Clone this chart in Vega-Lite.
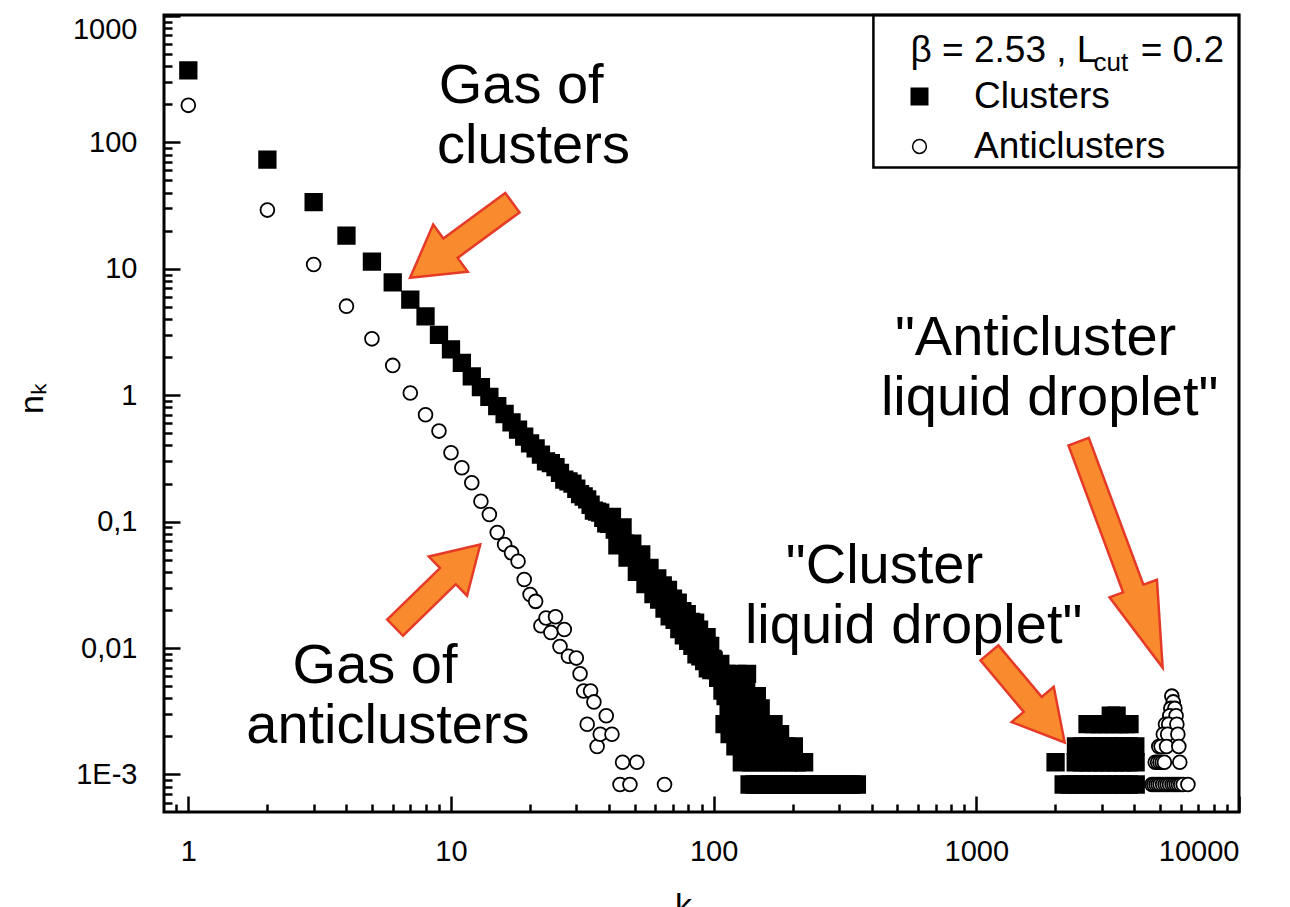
{
  "$schema": "https://vega.github.io/schema/vega-lite/v6.json",
  "width": 1075,
  "height": 797,
  "autosize": {"type": "none"},
  "padding": {"left": 164, "top": 15, "right": 51, "bottom": 95},
  "background": "white",
  "config": {
    "font": "Liberation Sans",
    "view": {"stroke": "black", "strokeWidth": 3},
    "axis": {"grid": false, "domain": false, "tickColor": "black", "tickWidth": 2.5, "ticks": true, "tickOpacity": 1, "labelColor": "black", "labelFont": "Liberation Sans", "labelFontSize": 29, "labelOverlap": false, "labelFlush": 2, "titleColor": "black", "titleFont": "Liberation Sans", "titleFontWeight": "normal", "zindex": 1}
  },
  "resolve": {"axis": {"x": "independent", "y": "independent"}},
  "datasets": {
    "points": [
      {"k":1,"n":371,"series":"Clusters"},{"k":2,"n":73,"series":"Clusters"},{"k":3,"n":33.6,"series":"Clusters"},{"k":4,"n":18.3,"series":"Clusters"},{"k":5,"n":11.4,"series":"Clusters"},{"k":6,"n":7.8,"series":"Clusters"},{"k":7,"n":5.7,"series":"Clusters"},{"k":8,"n":4.2,"series":"Clusters"},{"k":9,"n":3.0,"series":"Clusters"},{"k":10,"n":2.3,"series":"Clusters"},
      {"k":11,"n":1.8,"series":"Clusters"},{"k":12,"n":1.41,"series":"Clusters"},{"k":13,"n":1.16,"series":"Clusters"},{"k":14,"n":0.97,"series":"Clusters"},{"k":15,"n":0.82,"series":"Clusters"},{"k":16,"n":0.71,"series":"Clusters"},{"k":17,"n":0.61,"series":"Clusters"},{"k":18,"n":0.535,"series":"Clusters"},{"k":19,"n":0.47,"series":"Clusters"},{"k":20,"n":0.416,"series":"Clusters"},
      {"k":21,"n":0.38,"series":"Clusters"},{"k":22,"n":0.339,"series":"Clusters"},{"k":23,"n":0.30,"series":"Clusters"},{"k":24,"n":0.29,"series":"Clusters"},{"k":25,"n":0.27,"series":"Clusters"},{"k":26,"n":0.243,"series":"Clusters"},{"k":27,"n":0.215,"series":"Clusters"},{"k":28,"n":0.208,"series":"Clusters"},{"k":29,"n":0.2,"series":"Clusters"},{"k":30,"n":0.182,"series":"Clusters"},
      {"k":31,"n":0.165,"series":"Clusters"},{"k":32,"n":0.158,"series":"Clusters"},{"k":33,"n":0.15,"series":"Clusters"},{"k":34,"n":0.136,"series":"Clusters"},{"k":35,"n":0.122,"series":"Clusters"},{"k":36,"n":0.12,"series":"Clusters"},{"k":37,"n":0.118,"series":"Clusters"},{"k":38,"n":0.107,"series":"Clusters"},{"k":39,"n":0.097,"series":"Clusters"},{"k":40,"n":0.096,"series":"Clusters"},
      {"k":41,"n":0.109,"series":"Clusters"},{"k":42,"n":0.0863,"series":"Clusters"},{"k":43,"n":0.065,"series":"Clusters"},{"k":44,"n":0.0766,"series":"Clusters"},{"k":45,"n":0.09,"series":"Clusters"},{"k":46,"n":0.067,"series":"Clusters"},{"k":47,"n":0.052,"series":"Clusters"},{"k":48,"n":0.0593,"series":"Clusters"},{"k":49,"n":0.067,"series":"Clusters"},{"k":50,"n":0.0526,"series":"Clusters"},
      {"k":51,"n":0.040,"series":"Clusters"},{"k":52,"n":0.0468,"series":"Clusters"},{"k":53,"n":0.055,"series":"Clusters"},{"k":54,"n":0.0419,"series":"Clusters"},{"k":55,"n":0.032,"series":"Clusters"},{"k":56,"n":0.0376,"series":"Clusters"},{"k":57,"n":0.043,"series":"Clusters"},{"k":58,"n":0.034,"series":"Clusters"},{"k":59,"n":0.0267,"series":"Clusters"},{"k":60,"n":0.031,"series":"Clusters"},
      {"k":61,"n":0.0356,"series":"Clusters"},{"k":62,"n":0.0242,"series":"Clusters"},{"k":63,"n":0.0272,"series":"Clusters"},{"k":64,"n":0.0313,"series":"Clusters"},{"k":65,"n":0.0205,"series":"Clusters"},{"k":66,"n":0.024,"series":"Clusters"},{"k":67,"n":0.0289,"series":"Clusters"},{"k":68,"n":0.0178,"series":"Clusters"},{"k":69,"n":0.0213,"series":"Clusters"},{"k":70,"n":0.0246,"series":"Clusters"},
      {"k":71,"n":0.0167,"series":"Clusters"},{"k":72,"n":0.019,"series":"Clusters"},{"k":73,"n":0.0229,"series":"Clusters"},{"k":74,"n":0.0141,"series":"Clusters"},{"k":75,"n":0.0169,"series":"Clusters"},{"k":76,"n":0.0196,"series":"Clusters"},{"k":77,"n":0.0126,"series":"Clusters"},{"k":78,"n":0.0153,"series":"Clusters"},{"k":79,"n":0.0185,"series":"Clusters"},{"k":80,"n":0.0114,"series":"Clusters"},
      {"k":81,"n":0.0139,"series":"Clusters"},{"k":82,"n":0.0161,"series":"Clusters"},{"k":83,"n":0.0104,"series":"Clusters"},{"k":84,"n":0.0126,"series":"Clusters"},{"k":85,"n":0.0159,"series":"Clusters"},{"k":86,"n":0.0089,"series":"Clusters"},{"k":87,"n":0.0115,"series":"Clusters"},{"k":88,"n":0.014,"series":"Clusters"},{"k":89,"n":0.0086,"series":"Clusters"},{"k":90,"n":0.0105,"series":"Clusters"},
      {"k":91,"n":0.0122,"series":"Clusters"},{"k":92,"n":0.0079,"series":"Clusters"},{"k":93,"n":0.0097,"series":"Clusters"},{"k":94,"n":0.0122,"series":"Clusters"},{"k":95,"n":0.0069,"series":"Clusters"},{"k":96,"n":0.0089,"series":"Clusters"},{"k":97,"n":0.0104,"series":"Clusters"},{"k":98,"n":0.0067,"series":"Clusters"},{"k":99,"n":0.0082,"series":"Clusters"},{"k":100,"n":0.008,"series":"Clusters"},
      {"k":102,"n":0.0067,"series":"Clusters"},{"k":104,"n":0.0058,"series":"Clusters"},{"k":106,"n":0.0075,"series":"Clusters"},{"k":108,"n":0.0046,"series":"Clusters"},
      {"k":112,"n":0.00625,"series":"Clusters"},{"k":123,"n":0.00625,"series":"Clusters"},{"k":134,"n":0.00625,"series":"Clusters"},
      {"k":113,"n":0.005,"series":"Clusters"},{"k":125,"n":0.005,"series":"Clusters"},{"k":133,"n":0.005,"series":"Clusters"},
      {"k":111,"n":0.004167,"series":"Clusters"},{"k":120,"n":0.004167,"series":"Clusters"},{"k":131,"n":0.004167,"series":"Clusters"},{"k":146,"n":0.004167,"series":"Clusters"},
      {"k":114,"n":0.003333,"series":"Clusters"},{"k":126,"n":0.003333,"series":"Clusters"},{"k":138,"n":0.003333,"series":"Clusters"},{"k":151,"n":0.003333,"series":"Clusters"},
      {"k":110,"n":0.0025,"series":"Clusters"},{"k":118,"n":0.0025,"series":"Clusters"},{"k":129,"n":0.0025,"series":"Clusters"},{"k":142,"n":0.0025,"series":"Clusters"},{"k":156,"n":0.0025,"series":"Clusters"},{"k":169,"n":0.0025,"series":"Clusters"},
      {"k":115,"n":0.002083,"series":"Clusters"},{"k":127,"n":0.002083,"series":"Clusters"},{"k":140,"n":0.002083,"series":"Clusters"},{"k":153,"n":0.002083,"series":"Clusters"},{"k":166,"n":0.002083,"series":"Clusters"},{"k":179,"n":0.002083,"series":"Clusters"},
      {"k":121,"n":0.001667,"series":"Clusters"},{"k":132,"n":0.001667,"series":"Clusters"},{"k":144,"n":0.001667,"series":"Clusters"},{"k":158,"n":0.001667,"series":"Clusters"},{"k":173,"n":0.001667,"series":"Clusters"},{"k":188,"n":0.001667,"series":"Clusters"},{"k":202,"n":0.001667,"series":"Clusters"},
      {"k":128,"n":0.00125,"series":"Clusters"},{"k":139,"n":0.00125,"series":"Clusters"},{"k":150,"n":0.00125,"series":"Clusters"},{"k":163,"n":0.00125,"series":"Clusters"},{"k":176,"n":0.00125,"series":"Clusters"},{"k":192,"n":0.00125,"series":"Clusters"},{"k":207,"n":0.00125,"series":"Clusters"},{"k":221,"n":0.00125,"series":"Clusters"},
      {"k":137,"n":0.000833,"series":"Clusters"},{"k":143,"n":0.000833,"series":"Clusters"},{"k":148,"n":0.000833,"series":"Clusters"},{"k":155,"n":0.000833,"series":"Clusters"},{"k":161,"n":0.000833,"series":"Clusters"},{"k":168,"n":0.000833,"series":"Clusters"},{"k":175,"n":0.000833,"series":"Clusters"},{"k":183,"n":0.000833,"series":"Clusters"},{"k":190,"n":0.000833,"series":"Clusters"},{"k":197,"n":0.000833,"series":"Clusters"},{"k":205,"n":0.000833,"series":"Clusters"},{"k":214,"n":0.000833,"series":"Clusters"},{"k":224,"n":0.000833,"series":"Clusters"},{"k":235,"n":0.000833,"series":"Clusters"},{"k":246,"n":0.000833,"series":"Clusters"},{"k":258,"n":0.000833,"series":"Clusters"},{"k":270,"n":0.000833,"series":"Clusters"},{"k":283,"n":0.000833,"series":"Clusters"},{"k":296,"n":0.000833,"series":"Clusters"},{"k":310,"n":0.000833,"series":"Clusters"},{"k":324,"n":0.000833,"series":"Clusters"},{"k":337,"n":0.000833,"series":"Clusters"},{"k":351,"n":0.000833,"series":"Clusters"},
      {"k":2003,"n":0.00125,"series":"Clusters"},{"k":2390,"n":0.00125,"series":"Clusters"},{"k":2520,"n":0.00125,"series":"Clusters"},{"k":2680,"n":0.00125,"series":"Clusters"},{"k":2840,"n":0.00125,"series":"Clusters"},{"k":3010,"n":0.00125,"series":"Clusters"},{"k":3190,"n":0.00125,"series":"Clusters"},{"k":3380,"n":0.00125,"series":"Clusters"},{"k":3580,"n":0.00125,"series":"Clusters"},{"k":3790,"n":0.00125,"series":"Clusters"},{"k":4040,"n":0.00125,"series":"Clusters"},
      {"k":2395,"n":0.001667,"series":"Clusters"},{"k":2530,"n":0.001667,"series":"Clusters"},{"k":2690,"n":0.001667,"series":"Clusters"},{"k":2850,"n":0.001667,"series":"Clusters"},{"k":3020,"n":0.001667,"series":"Clusters"},{"k":3200,"n":0.001667,"series":"Clusters"},{"k":3390,"n":0.001667,"series":"Clusters"},{"k":3590,"n":0.001667,"series":"Clusters"},{"k":3800,"n":0.001667,"series":"Clusters"},{"k":4030,"n":0.001667,"series":"Clusters"},
      {"k":2650,"n":0.0025,"series":"Clusters"},{"k":2800,"n":0.0025,"series":"Clusters"},{"k":2960,"n":0.0025,"series":"Clusters"},{"k":3130,"n":0.0025,"series":"Clusters"},{"k":3310,"n":0.0025,"series":"Clusters"},{"k":3500,"n":0.0025,"series":"Clusters"},{"k":3700,"n":0.0025,"series":"Clusters"},{"k":3830,"n":0.0025,"series":"Clusters"},
      {"k":3250,"n":0.002917,"series":"Clusters"},{"k":3420,"n":0.002917,"series":"Clusters"},
      {"k":2150,"n":0.000833,"series":"Clusters"},{"k":2270,"n":0.000833,"series":"Clusters"},{"k":2400,"n":0.000833,"series":"Clusters"},{"k":2540,"n":0.000833,"series":"Clusters"},{"k":2700,"n":0.000833,"series":"Clusters"},{"k":2860,"n":0.000833,"series":"Clusters"},{"k":3030,"n":0.000833,"series":"Clusters"},{"k":3210,"n":0.000833,"series":"Clusters"},{"k":3400,"n":0.000833,"series":"Clusters"},{"k":3600,"n":0.000833,"series":"Clusters"},{"k":3810,"n":0.000833,"series":"Clusters"},{"k":4045,"n":0.000833,"series":"Clusters"},
      {"k":1,"n":196,"series":"Anticlusters"},{"k":2,"n":29.1,"series":"Anticlusters"},{"k":3,"n":10.8,"series":"Anticlusters"},{"k":4,"n":5.06,"series":"Anticlusters"},{"k":5,"n":2.79,"series":"Anticlusters"},{"k":6,"n":1.72,"series":"Anticlusters"},{"k":7,"n":1.04,"series":"Anticlusters"},{"k":8,"n":0.70,"series":"Anticlusters"},{"k":9,"n":0.52,"series":"Anticlusters"},{"k":10,"n":0.35,"series":"Anticlusters"},
      {"k":11,"n":0.267,"series":"Anticlusters"},{"k":12,"n":0.203,"series":"Anticlusters"},{"k":13,"n":0.145,"series":"Anticlusters"},{"k":14,"n":0.114,"series":"Anticlusters"},{"k":15,"n":0.082,"series":"Anticlusters"},{"k":16,"n":0.066,"series":"Anticlusters"},{"k":17,"n":0.0566,"series":"Anticlusters"},{"k":18,"n":0.0486,"series":"Anticlusters"},{"k":19,"n":0.0348,"series":"Anticlusters"},{"k":20,"n":0.0265,"series":"Anticlusters"},
      {"k":21,"n":0.0234,"series":"Anticlusters"},{"k":22,"n":0.015,"series":"Anticlusters"},{"k":23,"n":0.0173,"series":"Anticlusters"},{"k":24,"n":0.0133,"series":"Anticlusters"},{"k":25,"n":0.0177,"series":"Anticlusters"},{"k":26,"n":0.0103,"series":"Anticlusters"},{"k":27,"n":0.014,"series":"Anticlusters"},{"k":28,"n":0.0086,"series":"Anticlusters"},{"k":30,"n":0.00833,"series":"Anticlusters"},{"k":31,"n":0.00625,"series":"Anticlusters"},
      {"k":32,"n":0.00458,"series":"Anticlusters"},{"k":33,"n":0.0025,"series":"Anticlusters"},{"k":34,"n":0.00458,"series":"Anticlusters"},{"k":35,"n":0.00375,"series":"Anticlusters"},{"k":36,"n":0.001667,"series":"Anticlusters"},{"k":37,"n":0.002083,"series":"Anticlusters"},{"k":39,"n":0.002917,"series":"Anticlusters"},{"k":41,"n":0.002083,"series":"Anticlusters"},{"k":44,"n":0.000833,"series":"Anticlusters"},{"k":45,"n":0.00125,"series":"Anticlusters"},
      {"k":48,"n":0.000833,"series":"Anticlusters"},{"k":51,"n":0.00125,"series":"Anticlusters"},{"k":65,"n":0.000833,"series":"Anticlusters"},
      {"k":5550,"n":0.004167,"series":"Anticlusters"},{"k":5620,"n":0.00375,"series":"Anticlusters"},{"k":5500,"n":0.003333,"series":"Anticlusters"},{"k":5700,"n":0.003333,"series":"Anticlusters"},{"k":5450,"n":0.002917,"series":"Anticlusters"},{"k":5760,"n":0.002917,"series":"Anticlusters"},
      {"k":5250,"n":0.0025,"series":"Anticlusters"},{"k":5400,"n":0.0025,"series":"Anticlusters"},{"k":5800,"n":0.0025,"series":"Anticlusters"},{"k":5150,"n":0.002083,"series":"Anticlusters"},{"k":5350,"n":0.002083,"series":"Anticlusters"},{"k":5850,"n":0.002083,"series":"Anticlusters"},
      {"k":4950,"n":0.001667,"series":"Anticlusters"},{"k":5050,"n":0.001667,"series":"Anticlusters"},{"k":5300,"n":0.001667,"series":"Anticlusters"},{"k":5900,"n":0.001667,"series":"Anticlusters"},
      {"k":4800,"n":0.00125,"series":"Anticlusters"},{"k":4900,"n":0.00125,"series":"Anticlusters"},{"k":5000,"n":0.00125,"series":"Anticlusters"},{"k":5100,"n":0.00125,"series":"Anticlusters"},{"k":5200,"n":0.00125,"series":"Anticlusters"},{"k":5950,"n":0.00125,"series":"Anticlusters"},
      {"k":4660,"n":0.000833,"series":"Anticlusters"},{"k":4740,"n":0.000833,"series":"Anticlusters"},{"k":4830,"n":0.000833,"series":"Anticlusters"},{"k":4920,"n":0.000833,"series":"Anticlusters"},{"k":5010,"n":0.000833,"series":"Anticlusters"},{"k":5120,"n":0.000833,"series":"Anticlusters"},{"k":5230,"n":0.000833,"series":"Anticlusters"},{"k":5330,"n":0.000833,"series":"Anticlusters"},{"k":5440,"n":0.000833,"series":"Anticlusters"},{"k":5560,"n":0.000833,"series":"Anticlusters"},{"k":5660,"n":0.000833,"series":"Anticlusters"},{"k":5770,"n":0.000833,"series":"Anticlusters"},{"k":5880,"n":0.000833,"series":"Anticlusters"},{"k":6000,"n":0.000833,"series":"Anticlusters"},{"k":6130,"n":0.000833,"series":"Anticlusters"},{"k":6390,"n":0.000833,"series":"Anticlusters"}
    ],
    "notes": [
      {"label": "Gas of", "k": 18.5, "n": 205.6},
      {"label": "clusters", "k": 20.6, "n": 69.0},
      {"label": "Gas of", "k": 5.14, "n": 0.00533},
      {"label": "anticlusters", "k": 5.75, "n": 0.001786},
      {"label": "\"Cluster", "k": 447, "n": 0.0329},
      {"label": "liquid droplet\"", "k": 577, "n": 0.01103},
      {"label": "\"Anticluster", "k": 1681, "n": 2.09},
      {"label": "liquid droplet\"", "k": 1901, "n": 0.701}
    ]
  },
  "layer": [
    {
      "data": {"values": [{}]},
      "mark": {"type": "rect", "fill": "white", "fillOpacity": 0, "stroke": "black", "strokeWidth": 2.5},
      "encoding": {"x": {"datum": 405.7, "axis": null}, "x2": {"datum": 10000}, "y": {"datum": 1016, "axis": null}, "y2": {"datum": 63.3}}
    },
    {
      "data": {"name": "points"},
      "mark": {"type": "point", "opacity": 1, "filled": true, "stroke": "black", "strokeWidth": 1.8},
      "encoding": {
        "x": {"field": "k", "type": "quantitative", "scale": {"type": "log", "domain": [0.808, 10000], "nice": false},
          "axis": {
            "orient": "bottom", "offset": -16, "tickSize": 16,
            "values": [1, 10, 100, 1000, 10000],
            "format": "d",
            "labelPadding": 25,
            "title": "k", "titleFontSize": 34, "titleX": 519, "titleY": 120, "titleBaseline": "alphabetic", "titleAlign": "center"
          }
        },
        "y": {"field": "n", "type": "quantitative", "scale": {"type": "log", "domain": [0.000505, 1016], "nice": false},
          "axis": {
            "orient": "left", "offset": -16, "tickSize": 16,
            "values": [0.001, 0.01, 0.1, 1, 10, 100, 1000],
            "labelExpr": "datum.value >= 1 ? format(datum.value, 'd') : datum.value > 0.05 ? '0,1' : datum.value > 0.005 ? '0,01' : '1E-3'",
            "labelPadding": 27,
            "title": "nₖ", "titleFontSize": 34, "titleX": -138, "titleY": 383, "titleBaseline": "alphabetic", "titleAlign": "center", "titleAngle": 270
          }
        },
        "shape": {"field": "series", "type": "nominal", "scale": {"domain": ["Clusters", "Anticlusters"], "range": ["square", "circle"]},
          "legend": {"title": null, "orient": "none", "legendX": 737, "legendY": 63, "padding": 0, "labelFontSize": 37, "labelFont": "Liberation Sans", "labelColor": "black", "labelOffset": 36, "labelLimit": 400, "rowPadding": 12, "symbolOpacity": 1, "encode": {"symbols": {"update": {"stroke": {"value": "black"}, "strokeWidth": {"value": 1.8}, "fill": {"scale": "fill", "field": "value"}}}}}},
        "fill": {"field": "series", "type": "nominal", "scale": {"domain": ["Clusters", "Anticlusters"], "range": ["black", "white"]},
          "legend": {"title": null, "orient": "none", "legendX": 737, "legendY": 63, "padding": 0, "labelFontSize": 37, "labelFont": "Liberation Sans", "labelColor": "black", "labelOffset": 36, "labelLimit": 400, "rowPadding": 12, "symbolOpacity": 1, "encode": {"symbols": {"update": {"stroke": {"value": "black"}, "strokeWidth": {"value": 1.8}, "fill": {"scale": "fill", "field": "value"}}}}}},
        "size": {"field": "series", "type": "ordinal", "scale": {"domain": ["Clusters", "Anticlusters"], "range": [272, 190]},
          "legend": {"title": null, "orient": "none", "legendX": 737, "legendY": 63, "padding": 0, "labelFontSize": 37, "labelFont": "Liberation Sans", "labelColor": "black", "labelOffset": 36, "labelLimit": 400, "rowPadding": 12, "symbolOpacity": 1, "encode": {"symbols": {"update": {"stroke": {"value": "black"}, "strokeWidth": {"value": 1.8}, "fill": {"scale": "fill", "field": "value"}}}}}}
      }
    },
    {
      "data": {"name": "notes"},
      "mark": {"type": "text", "font": "Liberation Sans", "fontSize": 56, "align": "center", "baseline": "alphabetic", "color": "black"},
      "encoding": {
        "x": {"field": "k", "type": "quantitative",
          "axis": {"orient": "bottom", "offset": -8, "tickSize": 8, "labels": false, "title": null,
            "values": [0.9,2,3,4,5,6,7,8,9,20,30,40,50,60,70,80,90,200,300,400,500,600,700,800,900,2000,3000,4000,5000,6000,7000,8000,9000]}},
        "y": {"field": "n", "type": "quantitative",
          "axis": {"orient": "left", "offset": -8, "tickSize": 8, "labels": false, "title": null,
            "values": [0.0006,0.0007,0.0008,0.0009,0.002,0.003,0.004,0.005,0.006,0.007,0.008,0.009,0.02,0.03,0.04,0.05,0.06,0.07,0.08,0.09,0.2,0.3,0.4,0.5,0.6,0.7,0.8,0.9,2,3,4,5,6,7,8,9,20,30,40,50,60,70,80,90,200,300,400,500,600,700,800,900]}},
        "text": {"field": "label"}
      }
    },
    {
      "data": {"values": [{}]},
      "mark": {"type": "text", "text": "β = 2.53 , L", "font": "Liberation Sans", "fontSize": 37, "align": "left", "baseline": "alphabetic", "color": "black"},
      "encoding": {"x": {"datum": 561.6, "axis": null}, "y": {"datum": 434, "axis": null}}
    },
    {
      "data": {"values": [{}]},
      "mark": {"type": "text", "text": "cut", "font": "Liberation Sans", "fontSize": 26, "align": "left", "baseline": "alphabetic", "color": "black"},
      "encoding": {"x": {"datum": 2796, "axis": null}, "y": {"datum": 368, "axis": null}}
    },
    {
      "data": {"values": [{}]},
      "mark": {"type": "text", "text": "= 0.2", "font": "Liberation Sans", "fontSize": 37, "align": "left", "baseline": "alphabetic", "color": "black"},
      "encoding": {"x": {"datum": 4222, "axis": null}, "y": {"datum": 434, "axis": null}}
    },
    {
      "data": {"values": [{}]},
      "mark": {"type": "point", "shape": "M 1 0 L 0.21 -0.46 L 0.21 -0.19 L -1 -0.19 L -1 0.19 L 0.21 0.19 L 0.21 0.46 Z", "size": 16129, "angle": 143.7, "filled": true, "fill": "#F98A2E", "stroke": "#E53A27", "strokeWidth": 2.5, "opacity": 1},
      "encoding": {"x": {"datum": 10.94, "axis": null}, "y": {"datum": 16.8, "axis": null}}
    },
    {
      "data": {"values": [{}]},
      "mark": {"type": "point", "shape": "M 1 0 L 0.24 -0.46 L 0.24 -0.19 L -1 -0.19 L -1 0.19 L 0.24 0.19 L 0.24 0.46 Z", "size": 14161, "angle": 315.7, "filled": true, "fill": "#F98A2E", "stroke": "#E53A27", "strokeWidth": 2.5, "opacity": 1},
      "encoding": {"x": {"datum": 8.9, "axis": null}, "y": {"datum": 0.0309, "axis": null}}
    },
    {
      "data": {"values": [{}]},
      "mark": {"type": "point", "shape": "M 1 0 L 0.15 -0.47 L 0.15 -0.2 L -1 -0.2 L -1 0.2 L 0.15 0.2 L 0.15 0.47 Z", "size": 13689, "angle": 50, "filled": true, "fill": "#F98A2E", "stroke": "#E53A27", "strokeWidth": 2.5, "opacity": 1},
      "encoding": {"x": {"datum": 1560, "axis": null}, "y": {"datum": 0.00405, "axis": null}}
    },
    {
      "data": {"values": [{}]},
      "mark": {"type": "point", "shape": "M 1 0 L 0.3 -0.21 L 0.3 -0.09 L -1 -0.09 L -1 0.09 L 0.3 0.09 L 0.3 0.21 Z", "size": 58081, "angle": 69.6, "filled": true, "fill": "#F98A2E", "stroke": "#E53A27", "strokeWidth": 2.5, "opacity": 1},
      "encoding": {"x": {"datum": 3543, "axis": null}, "y": {"datum": 0.0548, "axis": null}}
    }
  ]
}
